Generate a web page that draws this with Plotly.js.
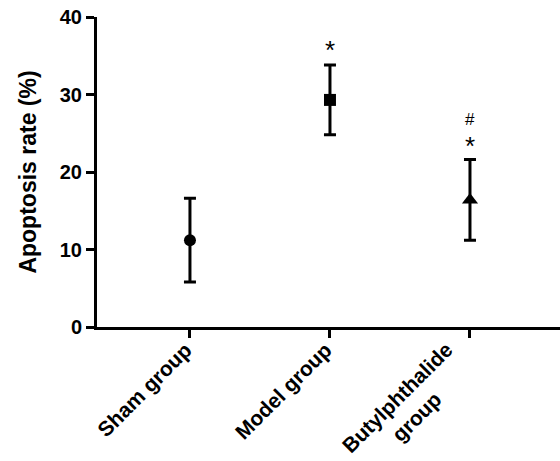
<!DOCTYPE html>
<html>
<head>
<meta charset="utf-8">
<script src="https://cdn.plot.ly/plotly-3.0.1.min.js"></script>
<style>html,body{margin:0;padding:0;background:#fff;}#chart{width:560px;height:461px;}</style>
</head>
<body>
<div id="chart"></div>
<script>
const categories = ["Sham group", "Model group", "Butylphthalide<br>group"];
const means = [11.2, 29.3, 16.4];
const errors = [5.4, 4.5, 5.2];
const symbols = ["circle", "square", "triangle-up"];
const starY = [null, 35.8, 23.4];
const hashY = [null, null, 26.8];
const yTicks = [0, 10, 20, 30, 40];

const FONT = "Arial, 'Liberation Sans', sans-serif";

const traces = categories.map((c, i) => ({
  type: "scatter",
  mode: "markers",
  x: [i],
  y: [means[i]],
  marker: {symbol: symbols[i], size: symbols[i] === "triangle-up" ? 14 : 12, color: "#000"},
  error_y: {type: "data", array: [errors[i]], visible: true, thickness: 3, width: 6, color: "#000"},
  showlegend: false,
  hoverinfo: "skip"
}));

const annotations = [];
starY.forEach((y, i) => {
  if (y === null) return;
  annotations.push({x: i, y: y, xref: "x", yref: "y", text: "*", showarrow: false,
    font: {family: FONT, size: 26, color: "#000"}});
});
hashY.forEach((y, i) => {
  if (y === null) return;
  annotations.push({x: i, y: y, xref: "x", yref: "y", text: "#", showarrow: false,
    font: {family: FONT, size: 17, color: "#000"}});
});
// category labels, rotated, centred lines
categories.forEach((c, i) => {
  annotations.push({x: i, y: 0, xref: "x", yref: "y", text: "<b>" + c + "</b>",
    showarrow: false, textangle: -45, align: "center",
    xanchor: "right", yanchor: "top", xshift: 9, yshift: -8,
    font: {family: FONT, size: 21, color: "#000"}});
});

const layout = {
  width: 560, height: 461,
  margin: {l: 97, r: 0, t: 17, b: 134},
  paper_bgcolor: "#fff", plot_bgcolor: "#fff",
  showlegend: false,
  xaxis: {
    range: [-0.664, 2.643],
    tickmode: "array",
    tickvals: [0, 1, 2],
    showticklabels: false,
    ticks: "outside", ticklen: 8, tickwidth: 3, tickcolor: "#000",
    showline: true, linewidth: 3, linecolor: "#000",
    showgrid: false, zeroline: false
  },
  yaxis: {
    range: [0, 40],
    tickmode: "array",
    tickvals: yTicks,
    ticktext: yTicks.map(v => "<b>" + v + "</b>"),
    ticks: "outside", ticklen: 8, tickwidth: 3, tickcolor: "#000",
    showline: true, linewidth: 3, linecolor: "#000",
    showgrid: false, zeroline: false,
    tickfont: {family: FONT, size: 20, color: "#000"},
    title: {text: "<b>Apoptosis rate (%)</b>", font: {family: FONT, size: 23, color: "#000"}, standoff: 17}
  },
  annotations: annotations
};

Plotly.newPlot("chart", traces, layout, {displayModeBar: false, staticPlot: true});
</script>
</body>
</html>
